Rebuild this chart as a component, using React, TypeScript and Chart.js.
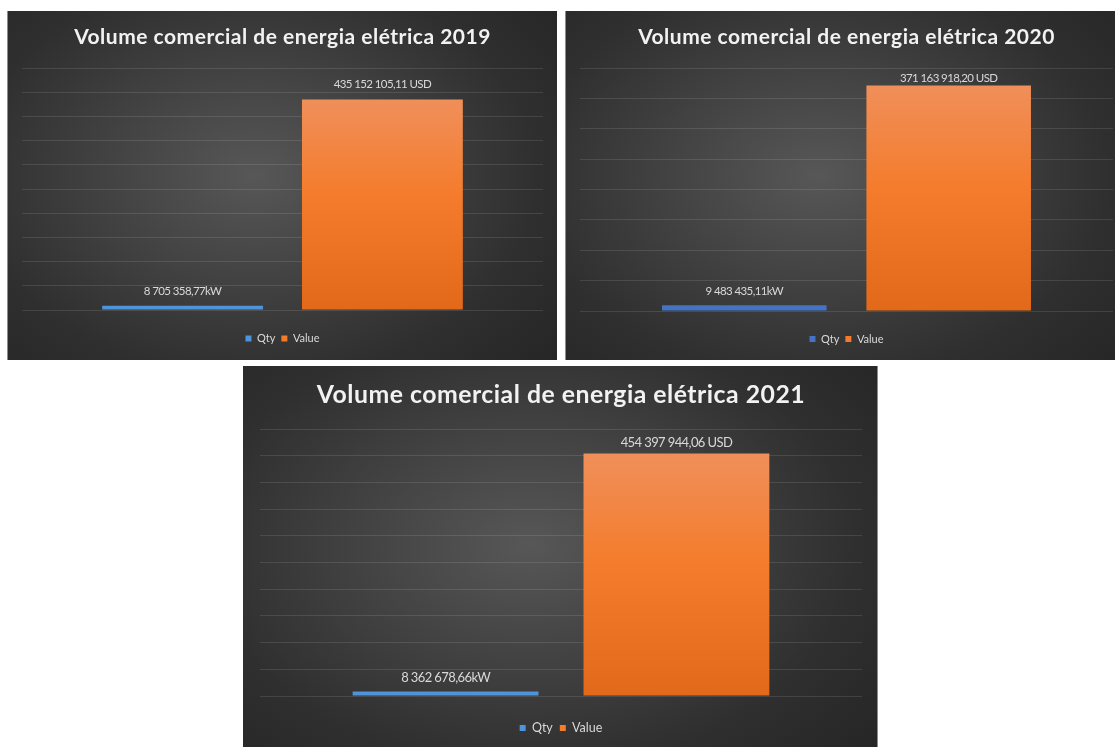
import React, { useEffect, useRef } from 'react';
import { Chart, registerables } from 'chart.js';

Chart.register(...registerables);

// ---- data ----
const seriesNames = ['Qty', 'Value'];
const years = ['2019', '2020', '2021'];
const qtyValues = [8705358.77, 9483435.11, 8362678.66];
const valueValues = [435152105.11, 371163918.2, 454397944.06];
const qtyUnit = 'kW';
const valueUnit = ' USD';
const axisMax = [500000000, 400000000, 500000000];
const axisStep = 50000000;
const titlePrefix = 'Volume comercial de energia elétrica';

// ---- layout / style per panel ----
const panels = [
  { left: 7, top: 11, width: 550, height: 349, canvasW: 550, canvasH: 349, titleSize: 21, titleSpacing: 0.5, titlePadTop: 13.4, titlePadBottom: 18.4, padLeft: 15, padRight: 14, xAxisH: 17, legendSize: 11, legendPad: 6, padBottom: 6, labelSize: 11.5, labelGaps: [14, 15], qtyColor: '#4d94db', border: 'left' },
  { left: 565, top: 11, width: 550, height: 349, canvasW: 563, canvasH: 349, titleSize: 21, titleSpacing: 0.5, titlePadTop: 13.4, titlePadBottom: 18.4, padLeft: 15, padRight: 15, xAxisH: 16.5, legendSize: 11, legendPad: 6, padBottom: 5.5, labelSize: 11.5, labelGaps: [14, 7], qtyColor: '#4472c4', border: 'left' },
  { left: 243, top: 366, width: 635, height: 381, canvasW: 635, canvasH: 381, titleSize: 24.8, titleSpacing: 0.5, titlePadTop: 14.1, titlePadBottom: 19.2, padLeft: 17, padRight: 16, xAxisH: 18.75, legendSize: 12.5, legendPad: 7, padBottom: 2.75, labelSize: 13, labelGaps: [14, 11], qtyColor: '#4d94db', border: 'right' },
];

const valueColor = '#f37b2b';
const textColor = '#d9d9d9';
const FONT = 'Lato, "Open Sans", sans-serif';

function fmt(v: number): string {
  const [i, d] = v.toFixed(2).split('.');
  return i.replace(/\B(?=(\d{3})+(?!\d))/g, ' ') + ',' + d;
}

function Panel({ idx }: { idx: number }) {
  const ref = useRef<HTMLCanvasElement | null>(null);
  const p = panels[idx];

  useEffect(() => {
    if (!ref.current) return;
    const qty = qtyValues[idx];
    const val = valueValues[idx];
    const colors = [p.qtyColor, valueColor];
    const labelTexts = [fmt(qty) + qtyUnit, fmt(val) + valueUnit];

    const labelPlugin = {
      id: 'barLabels' + idx,
      afterDatasetsDraw(chart: any) {
        const ctx = chart.ctx;
        ctx.save();
        ctx.font = `${p.labelSize}px ${FONT}`;
        ctx.fillStyle = textColor;
        ctx.textAlign = 'center';
        ctx.textBaseline = 'middle';
        (ctx as any).letterSpacing = '-0.6px';
        chart.data.datasets.forEach((_ds: any, i: number) => {
          const meta = chart.getDatasetMeta(i);
          meta.data.forEach((el: any) => {
            ctx.fillText(labelTexts[i], el.x, el.y - p.labelGaps[i]);
          });
        });
        ctx.restore();
      },
    };

    const chart = new Chart(ref.current, {
      type: 'bar',
      data: {
        labels: [years[idx]],
        datasets: [
          {
            label: seriesNames[0],
            data: [qty],
            backgroundColor: p.qtyColor,
            borderWidth: 0,
          },
          {
            label: seriesNames[1],
            data: [val],
            borderWidth: 0,
            backgroundColor: (c: any) => {
              const chart = c.chart;
              const area = chart.chartArea;
              if (!area || !chart.scales || !chart.scales.y) return valueColor;
              const top = chart.scales.y.getPixelForValue(val);
              const g = chart.ctx.createLinearGradient(0, top, 0, area.bottom);
              g.addColorStop(0, '#f08f5a');
              g.addColorStop(0.45, '#f47c2c');
              g.addColorStop(1, '#e2691a');
              return g;
            },
          },
        ],
      },
      options: {
        responsive: false,
        maintainAspectRatio: false,
        animation: false,
        devicePixelRatio: 1,
        categoryPercentage: 0.767,
        barPercentage: 0.805,
        layout: { padding: { left: p.padLeft, right: p.padRight, top: 0, bottom: p.padBottom } },
        plugins: {
          title: {
            display: true,
            text: `${titlePrefix} ${years[idx]}`,
            color: '#f2f2f2',
            font: { family: FONT, size: p.titleSize, weight: 'bold' },
            padding: { top: p.titlePadTop, bottom: p.titlePadBottom },
          },
          legend: {
            display: true,
            position: 'bottom',
            labels: {
              boxWidth: 6,
              boxHeight: 6,
              padding: p.legendPad,
              color: textColor,
              font: { family: FONT, size: p.legendSize },
              generateLabels: () =>
                seriesNames.map((name, i) => ({
                  text: name,
                  fillStyle: colors[i],
                  strokeStyle: colors[i],
                  lineWidth: 0,
                  hidden: false,
                  datasetIndex: i,
                  fontColor: textColor,
                })),
            },
          },
          tooltip: { enabled: false },
        },
        scales: {
          x: {
            display: true,
            grid: { display: false },
            border: { display: false },
            ticks: { display: false },
            afterFit: (s: any) => {
              s.height = p.xAxisH;
            },
          },
          y: {
            min: 0,
            max: axisMax[idx],
            grid: { color: 'rgba(255,255,255,0.11)', lineWidth: 1, drawTicks: false },
            border: { display: false },
            ticks: { display: false, stepSize: axisStep },
          },
        },
      },
      plugins: [labelPlugin],
    } as any);

    // Chart title with character spacing (like the original spreadsheet title)
    const tb: any = (chart as any).titleBlock;
    if (tb) {
      const origDraw = tb.draw.bind(tb);
      tb.draw = (area: any) => {
        const ctx: any = chart.ctx;
        ctx.save();
        ctx.letterSpacing = p.titleSpacing + 'px';
        origDraw(area);
        ctx.restore();
      };
      chart.draw();
    }

    return () => chart.destroy();
  }, [idx]);

  const borderStyle: any = {};
  if (p.border === 'left') borderStyle.borderLeft = '1px solid #8c8c8c';
  if (p.border === 'right') borderStyle.borderRight = '1px solid #8c8c8c';

  return (
    <div
      style={{
        position: 'absolute',
        left: p.left,
        top: p.top,
        width: p.width,
        height: p.height,
        overflow: 'hidden',
      }}
    >
      <div
        style={{
          position: 'absolute',
          left: 0,
          top: 0,
          width: p.canvasW,
          height: p.canvasH,
          background:
            'radial-gradient(ellipse 72% 80% at 45% 47%, #575757 0%, #424242 38%, #2f2f2f 72%, #262626 100%)',
        }}
      >
        <canvas ref={ref} width={p.canvasW} height={p.canvasH} style={{ display: 'block', width: p.canvasW, height: p.canvasH }} />
      </div>
      <div style={{ position: 'absolute', left: 0, top: 0, width: p.width, height: p.height, boxSizing: 'border-box', pointerEvents: 'none', ...borderStyle }} />
    </div>
  );
}

export default function App() {
  return (
    <div style={{ position: 'absolute', left: 0, top: 0, width: 1115, height: 747, overflow: 'hidden', background: '#ffffff' }}>
      {panels.map((_, i) => (
        <Panel key={i} idx={i} />
      ))}
    </div>
  );
}
